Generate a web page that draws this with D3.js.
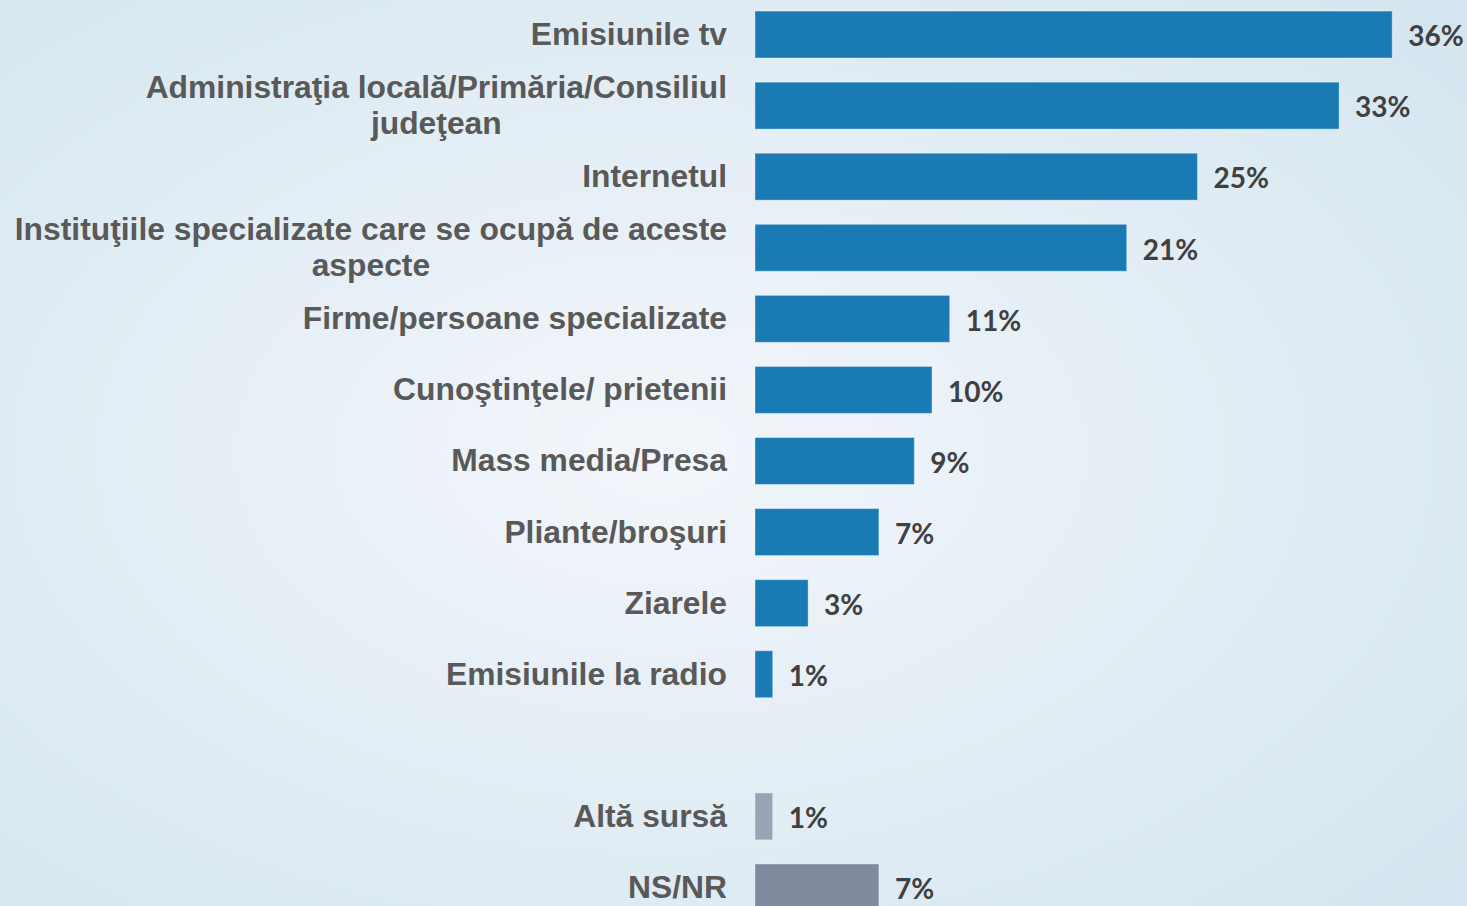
<!DOCTYPE html>
<html>
<head>
<meta charset="utf-8">
<script src="https://cdn.jsdelivr.net/npm/d3@7"></script>
<style>
  html, body { margin: 0; padding: 0; overflow: hidden; }
  svg { display: block; }
</style>
</head>
<body>
<svg id="chart" width="1467" height="906"></svg>
<script>
// categories, with an empty slot between the main list and the "other" rows
const categories = [
  'Emisiunile tv',
  'Administraţia locală/Primăria/Consiliul|judeţean',
  'Internetul',
  'Instituţiile specializate care se ocupă de aceste|aspecte',
  'Firme/persoane specializate',
  'Cunoştinţele/ prietenii',
  'Mass media/Presa',
  'Pliante/broşuri',
  'Ziarele',
  'Emisiunile la radio',
  '',
  'Altă sursă',
  'NS/NR'
];
const values = [36, 33, 25, 21, 11, 10, 9, 7, 3, 1, null, 1, 7];
const barColors = ['#1a7bb4', '#1a7bb4', '#1a7bb4', '#1a7bb4', '#1a7bb4', '#1a7bb4',
  '#1a7bb4', '#1a7bb4', '#1a7bb4', '#1a7bb4', null, '#98a5b7', '#7f8a9e'];

const W = 1467, H = 906;
const svg = d3.select('#chart');

// background
const defs = svg.append('defs');
const grad = defs.append('radialGradient')
  .attr('id', 'bg').attr('cx', '0.45').attr('cy', '0.5').attr('r', '0.75');
grad.append('stop').attr('offset', '0%').attr('stop-color', '#f3f6fb');
grad.append('stop').attr('offset', '100%').attr('stop-color', '#d3e5ef');
svg.append('rect').attr('width', W).attr('height', H).attr('fill', 'url(#bg)');

const y = d3.scaleBand()
  .domain(d3.range(categories.length))
  .range([-1, 923])
  .paddingInner(0.34)
  .paddingOuter(0.17);

const x = d3.scaleLinear().domain([0, 40]).range([755, 1463]);

const rows = categories.map((c, i) => ({ label: c, value: values[i], color: barColors[i], i }))
  .filter(d => d.value !== null);

const g = svg.append('g');

g.selectAll('rect.bar')
  .data(rows)
  .join('rect')
  .attr('class', 'bar')
  .attr('x', x(0))
  .attr('y', d => y(d.i))
  .attr('width', d => x(d.value) - x(0))
  .attr('height', y.bandwidth())
  .attr('fill', d => d.color)
  .attr('stroke', 'rgba(255,255,255,0.35)')
  .attr('stroke-width', 1);

g.selectAll('text.val')
  .data(rows)
  .join('text')
  .attr('class', 'val')
  .attr('x', d => x(d.value) + 16)
  .attr('y', d => y(d.i) + y.bandwidth() / 2 + 2)
  .attr('dy', '0.35em')
  .attr('font-family', 'Lato, "Open Sans", sans-serif')
  .attr('font-weight', 700)
  .attr('font-size', 28)
  .attr('fill', '#404040')
  .text(d => d.value + '%');

// category labels: right edge at 727, wrapped lines centred on each other
const labelRight = 727, lineH = 36;
const labels = g.selectAll('text.cat')
  .data(rows)
  .join('text')
  .attr('class', 'cat')
  .attr('font-family', 'Arial, "Liberation Sans", sans-serif')
  .attr('font-weight', 700)
  .attr('font-size', 31.8)
  .attr('fill', '#595959');

labels.each(function (d) {
  const el = d3.select(this);
  const lines = d.label.split('|');
  const cy = y(d.i) + y.bandwidth() / 2;
  const top = cy - (lines.length - 1) * lineH / 2;
  const spans = lines.map((t, k) => el.append('tspan')
    .attr('y', top + k * lineH)
    .attr('dy', '0.33em')
    .text(t));
  const widths = spans.map(s => s.node().getComputedTextLength());
  const maxW = d3.max(widths);
  const centre = labelRight - maxW / 2;
  spans.forEach(s => s.attr('x', centre).attr('text-anchor', 'middle'));
});
</script>
</body>
</html>
